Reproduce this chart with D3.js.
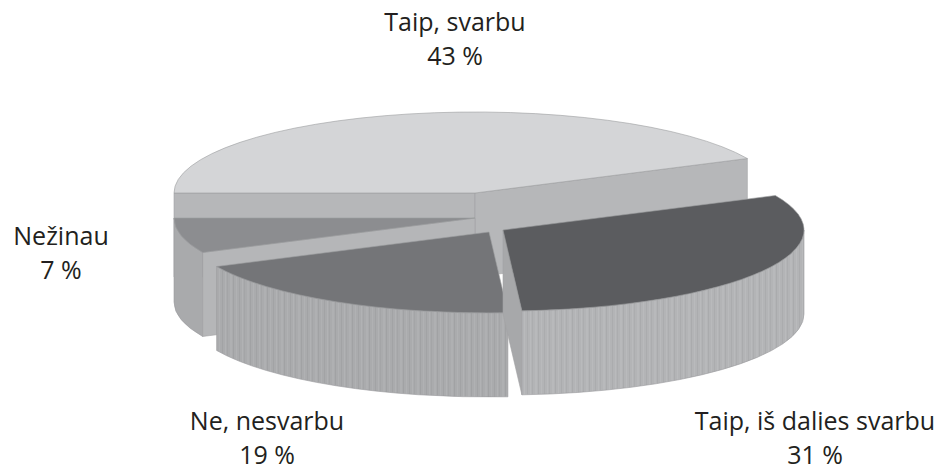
<!DOCTYPE html>
<html><head><meta charset="utf-8">
<script src="https://cdn.jsdelivr.net/npm/d3@7"></script>
<style>body{margin:0;background:#fff}</style>
</head><body><svg id="c" width="945" height="470"></svg>
<script>
const categories = ["Taip, svarbu", "Taip, iš dalies svarbu", "Ne, nesvarbu", "Nežinau"];
const values = [43, 31, 19, 7];
const percentLabels = ["43 %", "31 %", "19 %", "7 %"];

const svg = d3.select("#c");
const rx = 301, ry = 81, depth = 84;
const center = {x: 475, y: 193};
// explode offsets of each slice (layout)
const offsets = [[0, 0], [28, 37], [14, 39], [0, 25]];
const topColors = ["#d4d5d7", "#5b5c5f", "#747578", "#8c8d90"];
const sideColors = ["#b5b6b8", "url(#stripeA)", "url(#stripeB)", "#a9aaac"];
const cutColors = ["#b6b7b9", "#a7a8aa", "#b0b1b3", "#b5b6b8"];
const labelPos = [[455, 31], [815, 430], [267, 430], [61, 245]];
const drawOrder = [0, 3, 2, 1];

const defs = svg.append("defs");
function stripe(id, base, lines) {
  const p = defs.append("pattern").attr("id", id).attr("patternUnits", "userSpaceOnUse")
    .attr("width", 17).attr("height", 10);
  p.append("rect").attr("width", 17).attr("height", 10).attr("fill", base);
  lines.forEach(l => p.append("rect").attr("x", l[0]).attr("width", l[1]).attr("height", 10).attr("fill", l[2]));
}
stripe("stripeA", "#b3b4b6", [[0,1,"#abacae"],[3,1,"#b9babc"],[5,1,"#acadaf"],[8,2,"#b8b9bb"],[11,1,"#aaabad"],[14,1,"#b9babc"]]);
stripe("stripeB", "#aaabad", [[1,1,"#a2a3a5"],[4,1,"#b1b2b4"],[6,1,"#a4a5a7"],[9,2,"#afb0b2"],[12,1,"#a1a2a4"],[15,1,"#b0b1b3"]]);

const pie = d3.pie().sort(null).startAngle(-Math.PI / 2).endAngle(3 * Math.PI / 2);
const arcs = pie(values);

function pt(o, a, z) { return [o.x + rx * Math.sin(a), o.y - ry * Math.cos(a) + (z || 0)]; }
function P(p) { return p[0].toFixed(2) + "," + p[1].toFixed(2); }

const g = svg.append("g");
drawOrder.forEach(i => {
  const d = arcs[i];
  const o = {x: center.x + offsets[i][0], y: center.y + offsets[i][1]};
  const a0 = d.startAngle, a1 = d.endAngle;
  const cut = a => "M" + P([o.x, o.y]) + "L" + P(pt(o, a)) + "L" + P(pt(o, a, depth)) + "L" + P([o.x, o.y + depth]) + "Z";
  if (Math.sin(a0) < 0)
    g.append("path").attr("d", cut(a0)).attr("fill", cutColors[i]).attr("stroke", "#a2a3a5").attr("stroke-width", 0.6);
  if (Math.sin(a1) > 0)
    g.append("path").attr("d", cut(a1)).attr("fill", cutColors[i]).attr("stroke", "#a2a3a5").attr("stroke-width", 0.6);
  const s = Math.max(a0, Math.PI / 2), e = Math.min(a1, 3 * Math.PI / 2);
  if (s < e) {
    const large = (e - s) > Math.PI ? 1 : 0;
    const dd = "M" + P(pt(o, s)) + "A" + rx + "," + ry + " 0 " + large + " 1 " + P(pt(o, e)) +
      "L" + P(pt(o, e, depth)) + "A" + rx + "," + ry + " 0 " + large + " 0 " + P(pt(o, s, depth)) + "Z";
    g.append("path").attr("d", dd).attr("fill", sideColors[i]).attr("stroke", "#9a9b9d").attr("stroke-width", 0.6);
  }
  const large = (a1 - a0) > Math.PI ? 1 : 0;
  const td = "M" + P([o.x, o.y]) + "L" + P(pt(o, a0)) + "A" + rx + "," + ry + " 0 " + large + " 1 " + P(pt(o, a1)) + "Z";
  g.append("path").attr("d", td).attr("fill", topColors[i]).attr("stroke", "#9c9d9f").attr("stroke-width", 0.6);
});

const labels = svg.append("g").attr("font-family", "'Open Sans', sans-serif").attr("font-size", 25)
  .attr("fill", "#231f20").attr("text-anchor", "middle");
categories.forEach((c, i) => {
  const t = labels.append("text").attr("x", labelPos[i][0]).attr("y", labelPos[i][1]);
  t.append("tspan").attr("x", labelPos[i][0]).text(c);
  t.append("tspan").attr("x", labelPos[i][0]).attr("dy", 34).text(percentLabels[i]);
});
</script></body></html>
